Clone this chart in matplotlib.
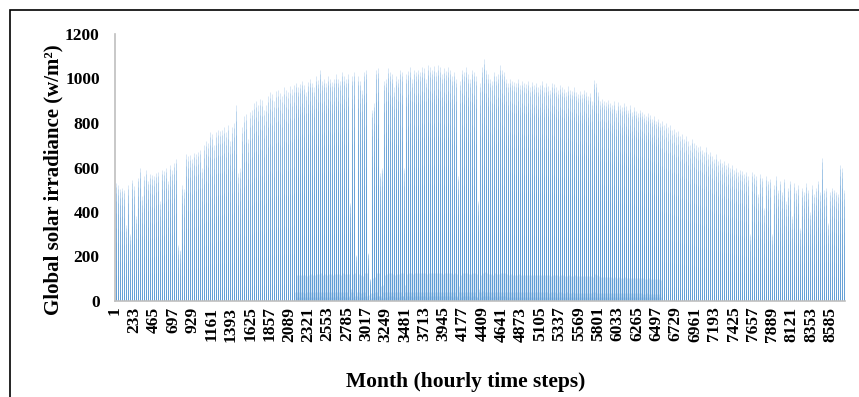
import numpy as np
import matplotlib.pyplot as plt
from matplotlib.patches import Rectangle

plt.rcParams['font.family'] = ['Liberation Serif', 'DejaVu Serif']

# daily peak irradiance (w/m2)
jan = [530, 520, 505, 510, 500, 340, 520, 300, 545, 515, 380, 555, 600, 470, 560, 590,
       540, 570, 565, 560, 575, 580, 450, 590, 585, 600, 540, 610, 590, 620, 640]
feb = [250, 230, 520, 505, 660, 650, 655, 640, 665, 660, 670, 680, 600, 700, 720, 710,
       760, 750, 700, 760, 770, 765, 770, 780, 760, 790, 720, 780]
mar = [800, 880, 575, 600, 780, 830, 840, 730, 850, 860, 890, 900, 880, 910, 905, 860,
       880, 920, 940, 930, 900, 945, 950, 935, 920, 960, 950, 940, 965, 955, 970]
apr = [980, 960, 975, 990, 970, 940, 985, 1000, 980, 960, 1010, 995, 1040, 990, 1000,
       980, 1010, 1000, 985, 1000, 1020, 1000, 990, 1030, 1010, 1000, 1020, 440, 1010, 1030]
may = [205, 1010, 990, 950, 1030, 1040, 215, 100, 860, 890, 1040, 1045, 575, 600, 990,
       1000, 1045, 1030, 1020, 960, 1010, 1000, 1040, 1030, 600, 1020, 1035, 1050, 1000,
       1040, 1030]
jun = [1040, 1030, 1050, 1045, 1000, 1060, 1050, 1040, 1055, 1030, 1060, 1050, 1020,
       1045, 1035, 1050, 1040, 1010, 1030, 1000, 560, 990, 1040, 1030, 1050, 1020, 1000,
       1040, 1030, 1010]
jul = [450, 980, 1050, 1088, 1040, 1020, 1000, 990, 1030, 1010, 1020, 1060, 1040, 1030,
       1000, 980, 1000, 990, 985, 980, 1000, 970, 990, 980, 975, 990, 960, 985, 970, 980, 960]
aug = [970, 990, 960, 980, 965, 950, 980, 975, 960, 950, 970, 960, 955, 940, 965, 950,
       945, 960, 940, 930, 945, 930, 950, 940, 920, 935, 900, 993, 980, 940, 900]
sep = [910, 900, 895, 905, 890, 880, 900, 860, 895, 880, 870, 890, 875, 860, 880, 850,
       870, 855, 845, 860, 850, 840, 830, 845, 835, 820, 830, 810, 820, 800]
oct_ = [810, 790, 800, 780, 790, 770, 775, 760, 765, 740, 750, 730, 740, 720, 700, 730,
        710, 700, 690, 695, 680, 670, 690, 660, 670, 650, 640, 660, 630, 640, 620]
nov = [630, 610, 620, 600, 610, 590, 600, 580, 590, 585, 570, 580, 560, 300, 580, 570,
       560, 480, 570, 555, 420, 560, 540, 550, 300, 520, 560, 500, 540, 490]
dec = [550, 450, 510, 540, 380, 530, 500, 520, 330, 510, 490, 530, 500, 400, 520, 480,
       510, 540, 490, 643, 500, 510, 350, 490, 510, 500, 490, 480, 611, 600, 500]

# relative shape of a day (hour 0..23)
shape_winter = [0, 0, 0, 0, 0, 0, 0, 0.08, 0.35, 0.62, 0.85, 0.97, 1.0, 0.92, 0.75,
                0.5, 0.22, 0.04, 0, 0, 0, 0, 0, 0]
shape_summer = [0, 0, 0, 0, 0, 0.04, 0.18, 0.38, 0.58, 0.76, 0.9, 0.98, 1.0, 0.96,
                0.86, 0.7, 0.5, 0.3, 0.12, 0.02, 0, 0, 0, 0]

months = [jan, feb, mar, apr, may, jun, jul, aug, sep, oct_, nov, dec]
summer = [False, False, False, True, True, True, True, True, True, False, False, False]

values = []
for m, days in enumerate(months):
    shape = np.array(shape_summer if summer[m] else shape_winter)
    for peak in days:
        values.extend(peak * shape)
values = np.array(values)
hours = np.arange(1, len(values) + 1)

tick_pos = np.arange(1, 8760, 232)

fig = plt.figure(figsize=(8.59, 3.97), dpi=100)
ax = fig.add_axes([115 / 859, 96 / 397, 730 / 859, 267 / 397])

day = values > 0
ax.vlines(hours[day], 0, values[day], colors='#5B9BD5', linewidth=0.5, alpha=0.33)

ax.set_xlim(0.5, len(values) + 0.5)
ax.set_ylim(0, 1200)
ax.set_yticks(range(0, 1201, 200))
ax.set_xticks(tick_pos)
ax.set_xticklabels([str(t) for t in tick_pos], rotation=90)
ax.tick_params(axis='both', length=0, labelsize=12.5)
ax.tick_params(axis='y', pad=11)
ax.tick_params(axis='x', pad=4)
for lab in ax.get_xticklabels() + ax.get_yticklabels():
    lab.set_fontweight('bold')

for s in ['top', 'right']:
    ax.spines[s].set_visible(False)
for s in ['left', 'bottom']:
    ax.spines[s].set_color('#BFBFBF')
    ax.spines[s].set_linewidth(1.2)

ax.set_ylabel('Global solar irradiance (w/m²)', fontsize=15, fontweight='bold')
ax.yaxis.set_label_coords(-52 / 730, 0.453)
fig.text(466 / 859, 1 - 382 / 397, 'Month (hourly time steps)', fontsize=15.5,
         fontweight='bold', ha='center', va='center')

# outer frame
fig.patches.append(Rectangle((10 / 859, -0.05), 1.0, 1.05 - 10 / 397,
                             transform=fig.transFigure, fill=False,
                             edgecolor='black', linewidth=1.2))

fig.savefig('out.png', dpi=100)
